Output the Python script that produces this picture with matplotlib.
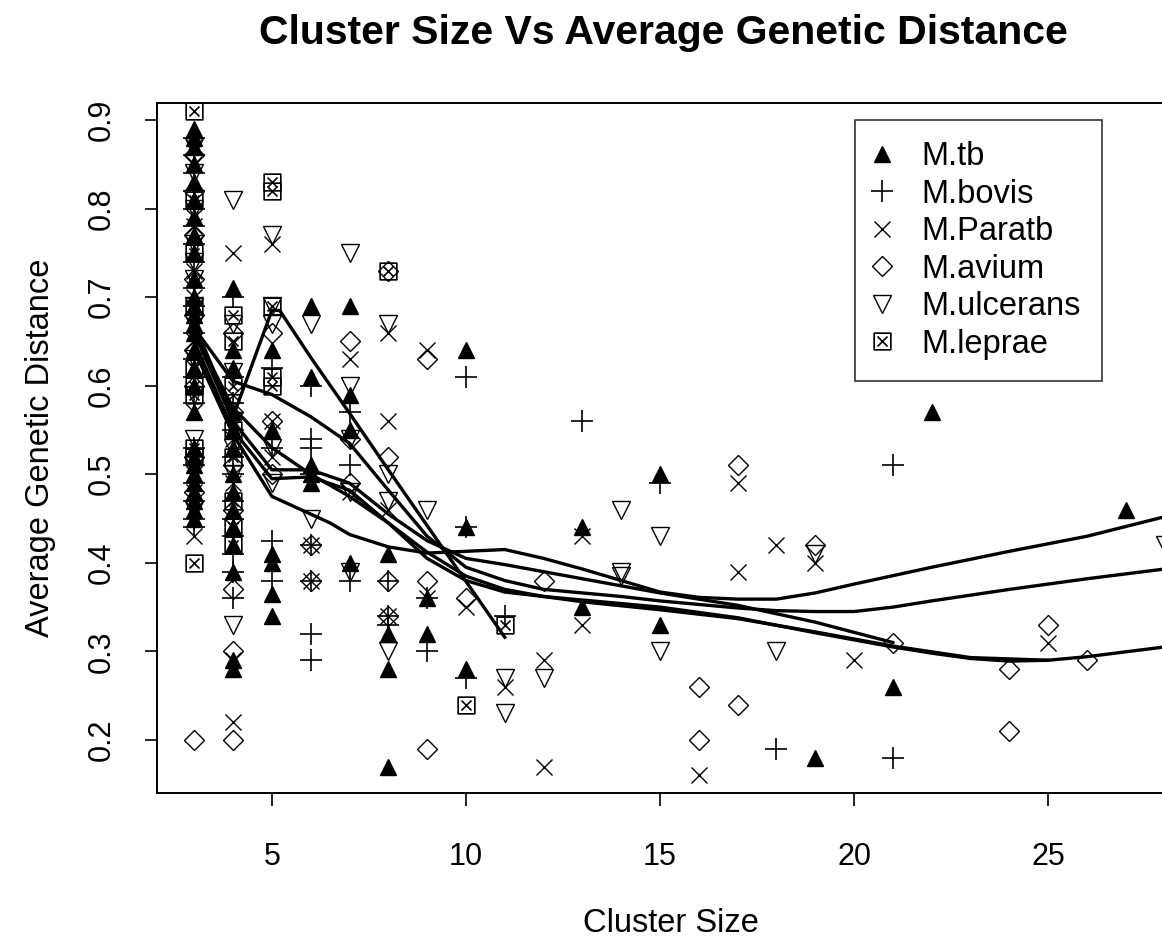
import matplotlib
matplotlib.use("Agg")
import matplotlib.pyplot as plt
from matplotlib.path import Path

plt.rcParams["font.family"] = ["Liberation Sans", "DejaVu Sans"]

# points: cluster size -> average genetic distances
tb_pts = {
    3: [0.89, 0.88, 0.87, 0.85, 0.83, 0.81, 0.79, 0.77, 0.75, 0.72, 0.70, 0.69, 0.68, 0.67,
        0.66, 0.64, 0.62, 0.60, 0.57, 0.53, 0.52, 0.51, 0.50, 0.49, 0.48, 0.47, 0.46, 0.45],
    4: [0.71, 0.64, 0.62, 0.57, 0.55, 0.53, 0.50, 0.48, 0.46, 0.44, 0.42, 0.39, 0.29, 0.28],
    5: [0.64, 0.55, 0.41, 0.40, 0.365, 0.34],
    6: [0.69, 0.61, 0.51, 0.50, 0.49],
    7: [0.69, 0.59, 0.55, 0.40],
    8: [0.41, 0.32, 0.28, 0.17],
    9: [0.36, 0.32],
    10: [0.64, 0.44, 0.28],
    13: [0.44, 0.35],
    15: [0.50, 0.33],
    19: [0.18],
    21: [0.26],
    22: [0.57],
    27: [0.46],
}
bovis_pts = {
    3: [0.88, 0.86, 0.84, 0.82, 0.80, 0.78, 0.76, 0.74, 0.71, 0.69, 0.66, 0.63, 0.61, 0.58,
        0.53, 0.51, 0.49, 0.47, 0.45, 0.44],
    4: [0.70, 0.61, 0.58, 0.55, 0.52, 0.50, 0.47, 0.45, 0.43, 0.41, 0.39, 0.36],
    5: [0.62, 0.53, 0.425, 0.38],
    6: [0.60, 0.54, 0.53, 0.50, 0.42, 0.38, 0.32, 0.29],
    7: [0.57, 0.51, 0.38],
    8: [0.38, 0.34, 0.33],
    9: [0.36, 0.30],
    10: [0.61, 0.44, 0.27],
    11: [0.34],
    13: [0.56],
    15: [0.49],
    18: [0.19],
    21: [0.51, 0.18],
}
paratb_pts = {
    3: [0.87, 0.85, 0.79, 0.78, 0.73, 0.70, 0.65, 0.62, 0.57, 0.50, 0.48, 0.46, 0.43],
    4: [0.75, 0.59, 0.54, 0.49, 0.44, 0.29, 0.22],
    5: [0.76, 0.56, 0.52],
    6: [0.42, 0.38],
    7: [0.63, 0.48],
    8: [0.66, 0.56, 0.46, 0.34],
    9: [0.64, 0.36],
    10: [0.35],
    11: [0.26],
    12: [0.29, 0.17],
    13: [0.43, 0.33],
    16: [0.16],
    17: [0.49, 0.39],
    18: [0.42],
    19: [0.40],
    20: [0.29],
    25: [0.31],
}
avium_pts = {
    3: [0.86, 0.82, 0.77, 0.72, 0.68, 0.64, 0.60, 0.52, 0.48, 0.20],
    4: [0.66, 0.57, 0.51, 0.46, 0.37, 0.30, 0.20],
    5: [0.66, 0.56, 0.50],
    6: [0.42, 0.38],
    7: [0.65, 0.54, 0.49],
    8: [0.73, 0.52, 0.38, 0.34],
    9: [0.63, 0.38, 0.19],
    10: [0.36],
    12: [0.38],
    16: [0.26, 0.20],
    17: [0.51, 0.24],
    19: [0.42],
    21: [0.31],
    24: [0.28, 0.21],
    25: [0.33],
    26: [0.29],
}
ulcerans_pts = {
    3: [0.87, 0.84, 0.80, 0.76, 0.74, 0.72, 0.69, 0.67, 0.63, 0.59, 0.54, 0.51, 0.46],
    4: [0.81, 0.67, 0.615, 0.56, 0.53, 0.50, 0.33],
    5: [0.77, 0.69, 0.67, 0.53, 0.49],
    6: [0.67, 0.45],
    7: [0.75, 0.60, 0.54, 0.48, 0.39],
    8: [0.67, 0.50, 0.47, 0.30],
    9: [0.46],
    11: [0.27, 0.23],
    12: [0.27],
    14: [0.46, 0.39, 0.385],
    15: [0.43, 0.30],
    18: [0.30],
    19: [0.41],
    28: [0.42],
}
leprae_pts = {
    3: [0.91, 0.81, 0.75, 0.69, 0.62, 0.60, 0.59, 0.53, 0.52, 0.40],
    4: [0.68, 0.65, 0.60, 0.55, 0.52, 0.47, 0.44, 0.42],
    5: [0.83, 0.82, 0.69, 0.61, 0.60],
    8: [0.73],
    10: [0.24],
    11: [0.33],
}

# smoothed trend lines
tb_fit_x = [3, 4, 5, 6, 6.5, 7, 8, 9, 10, 11, 12, 13, 14, 15, 16, 17, 18, 19, 20, 22, 24, 26, 28]
tb_fit_y = [0.64, 0.545, 0.475, 0.455, 0.445, 0.432, 0.418, 0.411, 0.413, 0.415, 0.405, 0.393,
            0.38, 0.367, 0.361, 0.359, 0.359, 0.366, 0.376, 0.395, 0.413, 0.43, 0.452]
bovis_fit_x = [3, 4, 5, 6, 7, 8, 9, 10, 11, 12, 13, 15, 17, 19, 21]
bovis_fit_y = [0.66, 0.56, 0.505, 0.505, 0.49, 0.455, 0.425, 0.405, 0.398, 0.39, 0.382,
               0.366, 0.352, 0.333, 0.31]
paratb_fit_x = [3, 4, 5, 6, 7, 8, 9, 10, 11, 12, 13, 15, 17, 19, 21, 23, 25]
paratb_fit_y = [0.66, 0.575, 0.53, 0.50, 0.475, 0.445, 0.412, 0.385, 0.37, 0.362, 0.356,
                0.347, 0.337, 0.322, 0.306, 0.293, 0.29]
avium_fit_x = [3, 4, 5, 6, 7, 8, 9, 10, 11, 12, 13, 15, 17, 19, 21, 22, 23, 24, 25, 26, 28]
avium_fit_y = [0.65, 0.55, 0.495, 0.497, 0.482, 0.445, 0.405, 0.38, 0.367, 0.362, 0.358,
               0.35, 0.338, 0.321, 0.305, 0.298, 0.292, 0.289, 0.29, 0.294, 0.305]
ulcerans_fit_x = [3, 4, 5, 6, 7, 8, 9, 10, 11, 12, 13, 14, 15, 16, 17, 18, 19, 20, 21, 22, 24, 26, 28]
ulcerans_fit_y = [0.665, 0.605, 0.59, 0.565, 0.535, 0.482, 0.43, 0.395, 0.38, 0.37, 0.366,
                  0.362, 0.357, 0.353, 0.349, 0.346, 0.345, 0.345, 0.35, 0.357, 0.37, 0.382, 0.393]
leprae_fit_x = [3, 4, 5, 5.2, 6, 7, 8, 9, 10, 11]
leprae_fit_y = [0.67, 0.565, 0.685, 0.685, 0.632, 0.569, 0.505, 0.442, 0.379, 0.316]

labels = ["M.tb", "M.bovis", "M.Paratb", "M.avium", "M.ulcerans", "M.leprae"]

# square with a cross, like R's pch 7
boxx = Path(
    [(-1, -1), (1, -1), (1, 1), (-1, 1), (-1, -1), (-0.6, -0.6), (0.6, 0.6), (-0.6, 0.6), (0.6, -0.6)],
    [Path.MOVETO, Path.LINETO, Path.LINETO, Path.LINETO, Path.CLOSEPOLY,
     Path.MOVETO, Path.LINETO, Path.MOVETO, Path.LINETO],
)

styles = [
    dict(marker="^", ms=11, mfc="black", mec="black"),
    dict(marker="+", ms=16, mec="black", mew=1.2),
    dict(marker="x", ms=11, mec="black", mew=1.0),
    dict(marker="D", ms=10, mfc="none", mec="black", mew=1.0),
    dict(marker="v", ms=13, mfc="none", mec="black", mew=1.0),
    dict(marker=boxx, ms=12, mfc="none", mec="black", mew=1.2),
]

all_pts = [tb_pts, bovis_pts, paratb_pts, avium_pts, ulcerans_pts, leprae_pts]
fits = [
    (tb_fit_x, tb_fit_y), (bovis_fit_x, bovis_fit_y), (paratb_fit_x, paratb_fit_y),
    (avium_fit_x, avium_fit_y), (ulcerans_fit_x, ulcerans_fit_y), (leprae_fit_x, leprae_fit_y),
]

fig = plt.figure(figsize=(11.62, 9.41), dpi=100)
ax = fig.add_axes([157 / 1162, 1 - 793 / 941, 1027 / 1162, 690 / 941])

handles = []
for pts, st, lab in zip(all_pts, styles, labels):
    xs = []
    ys = []
    for size, vals in pts.items():
        xs += [size] * len(vals)
        ys += vals
    h, = ax.plot(xs, ys, linestyle="none", label=lab, **st)
    handles.append(h)

for fx, fy in fits:
    ax.plot(fx, fy, color="black", lw=2.4)

ax.set_xlim(2.04, 28.5)
ax.set_ylim(0.1401, 0.9192)
ax.set_xticks([5, 10, 15, 20, 25])
ax.set_yticks([0.2, 0.3, 0.4, 0.5, 0.6, 0.7, 0.8, 0.9])
ax.set_yticklabels(["0.2", "0.3", "0.4", "0.5", "0.6", "0.7", "0.8", "0.9"],
                   rotation=90, va="center")
ax.tick_params(direction="out", length=9, width=1.2, labelsize=22)
ax.tick_params(axis="x", pad=26)
ax.tick_params(axis="y", pad=20)
for s in ax.spines.values():
    s.set_linewidth(1.4)

ax.set_xlabel("Cluster Size", fontsize=23.5, labelpad=26)
ax.set_ylabel("Average Genetic Distance", fontsize=23.5, labelpad=22)
fig.suptitle("Cluster Size Vs Average Genetic Distance", fontsize=29.5,
             fontweight="bold", x=663 / 1162, y=1 - 33 / 941, va="center")

leg = ax.legend(handles=handles, loc="upper right", bbox_to_anchor=(1102 / 1162, 1 - 120 / 941),
                bbox_transform=fig.transFigure, fontsize=23.5, frameon=True, fancybox=False,
                borderpad=0.65, labelspacing=0.2, handletextpad=1.0, handlelength=0.4,
                borderaxespad=0)
leg.get_frame().set_edgecolor("black")
leg.get_frame().set_linewidth(1.2)

plt.savefig("out.png", dpi=100)
plt.close()
